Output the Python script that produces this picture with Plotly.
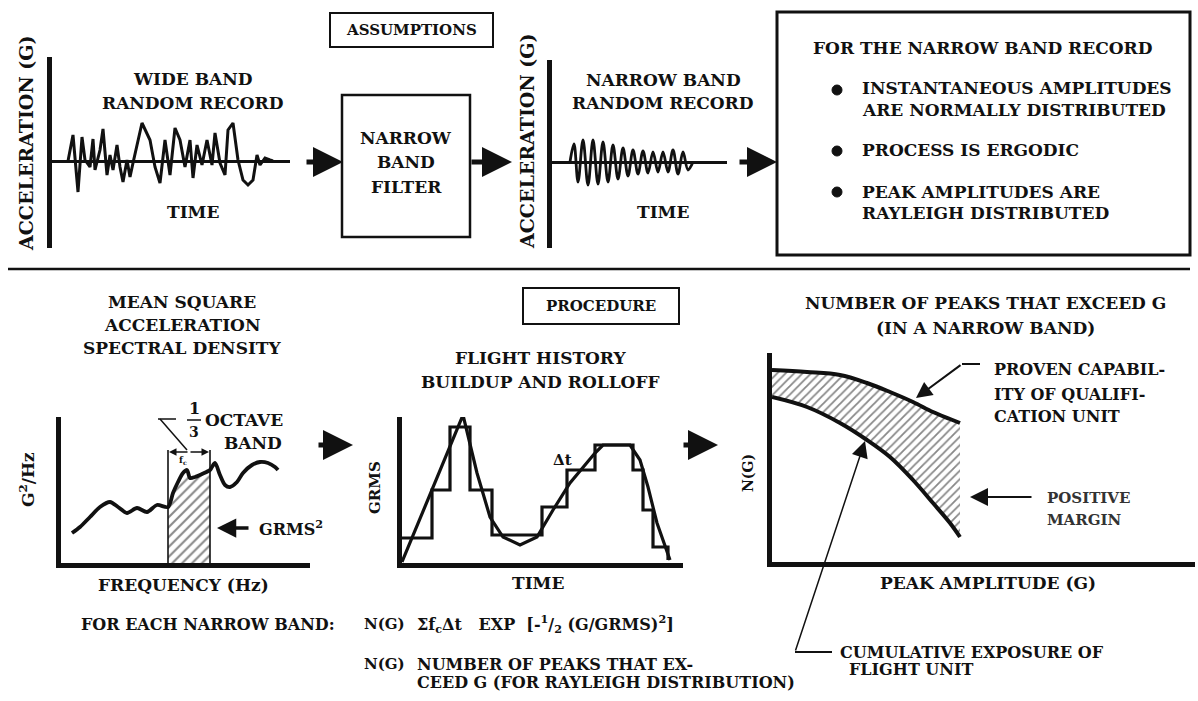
import plotly.graph_objects as go

W, H = 1198, 701
INK = "#111111"
FONT = "DejaVu Serif"

# ---------------- data ----------------
# Wide band random record (time, acceleration; arbitrary units)
WB_T = [16, 21, 26, 30, 33, 38, 41, 43, 48, 51, 55, 58, 61, 65, 68, 71, 75, 78, 81, 90,
        98, 103, 108, 113, 118, 123, 128, 133, 138, 141, 145, 150, 155, 160, 163, 168, 173, 176, 181, 186,
        191, 196, 201, 205, 208, 213, 218, 221]
WB_A = [0, 26, -31, 24, 1, -6, 22, -9, 11, 32, -14, 6, -9, 16, -6, -21, 1, -16, -2, 38,
        21, -6, -22, 21, -14, 33, 21, -6, 21, -17, 16, -4, 21, -4, 28, -2, -14, 31, 38, 1,
        -19, -24, -19, 6, -4, 3, 1, 0]

# Narrow band random record (time, acceleration)
NB_T = [18, 22, 26, 31, 36, 41, 46, 51, 56, 61, 66, 71, 76, 81, 86, 91, 96, 101, 106, 111,
        116, 121, 126, 131, 136, 141]
NB_A = [0, 18, -20, 22, -23, 22, -22, 20, -20, 17, -17, 14, -14, 12, -12, 11, -11, 10, -10, 10,
        -10, 12, -12, 10, -8, 0]

# Mean square acceleration spectral density (frequency, G^2/Hz)
PSD_F = [11, 19, 29, 39, 49, 57, 66, 76, 86, 96, 107, 112, 117, 122, 126, 129, 134, 141, 149, 151,
         154, 159, 164, 169, 176, 182, 191, 199, 207, 214, 217]
PSD_S = [30, 36, 46, 56, 61, 56, 50, 55, 51, 58, 56, 70, 81, 90, 93, 85, 86, 89, 93, 96,
         100, 88, 78, 76, 81, 90, 98, 101, 100, 96, 93]
BAND_LO, BAND_HI = 107, 149          # 1/3 octave band edges

# Flight history buildup and rolloff (time, GRMS)
FH_T = [0, 61, 75, 88, 101, 118, 135, 151, 168, 181, 193, 201, 228, 238, 246, 255, 268]
FH_G = [1, 148, 90, 46, 26, 18, 26, 53, 80, 96, 110, 118, 118, 103, 76, 40, 3]
# step approximation (Δt blocks)
ST_T = [0, 30, 48, 68, 90, 140, 165, 193, 231, 241, 251, 266]
ST_G = [25, 73, 136, 73, 28, 56, 93, 118, 93, 53, 16, 3]

# Number of peaks exceeding G (peak amplitude, N(G))
NG_G = [0, 35, 68, 95, 118, 141, 161, 178, 188]
NG_QUAL = [192, 190, 187, 179, 170, 160, 150, 143, 139]     # proven capability of qualification unit
NG_FLIGHT = [165, 155, 139, 122, 105, 82, 59, 39, 25]       # cumulative exposure of flight unit


def px(x):
    return x / W


def py(y):
    return 1 - y / H


fig = go.Figure()
layout_axes = {}


def panel(n, x0, x1, y0, y1, xr, yr, xline=False, yline=False, zero=False, lw=4.5):
    sx = "" if n == 1 else str(n)
    layout_axes["xaxis" + sx] = dict(domain=[px(x0), px(x1)], range=xr, anchor="y" + sx,
                                     showgrid=False, zeroline=False, showticklabels=False,
                                     ticks="", showline=xline, linewidth=lw, linecolor=INK,
                                     fixedrange=True)
    layout_axes["yaxis" + sx] = dict(domain=[py(y1), py(y0)], range=yr, anchor="x" + sx,
                                     showgrid=False, zeroline=zero, zerolinewidth=3,
                                     zerolinecolor=INK, showticklabels=False, ticks="",
                                     showline=yline, linewidth=lw, linecolor=INK,
                                     fixedrange=True)
    return ("x" + sx, "y" + sx)


p1 = panel(1, 52, 290, 57, 248, [0, 238], [-87, 104], yline=True, zero=True, lw=5)
p2 = panel(2, 552, 727, 60, 248, [0, 175], [-86, 102], yline=True, zero=True, lw=5)
p3 = panel(3, 61, 310, 417, 563, [0, 249], [0, 146], xline=True, yline=True)
p4 = panel(4, 402, 683, 417, 563, [0, 281], [0, 146], xline=True, yline=True)
p5 = panel(5, 772, 1195, 353, 562, [0, 423], [0, 209], xline=True, yline=True)

fig.add_trace(go.Scatter(x=WB_T, y=WB_A, xaxis=p1[0], yaxis=p1[1], mode="lines",
                         line=dict(color=INK, width=3)))
fig.add_trace(go.Scatter(x=NB_T, y=NB_A, xaxis=p2[0], yaxis=p2[1], mode="lines",
                         line=dict(color=INK, width=2.8, shape="spline", smoothing=1.0)))

# hatched 1/3 octave band under the spectral density
band_f = [BAND_LO] + [f for f in PSD_F if BAND_LO <= f <= BAND_HI] + [BAND_HI]
band_s = [0] + [s for f, s in zip(PSD_F, PSD_S) if BAND_LO <= f <= BAND_HI] + [0]
fig.add_trace(go.Scatter(x=band_f, y=band_s, xaxis=p3[0], yaxis=p3[1], mode="lines",
                         fill="toself", fillcolor="white", line=dict(width=0, color=INK),
                         fillpattern=dict(shape="/", fgcolor=INK, bgcolor="white",
                                          size=7, solidity=0.3)))
fig.add_trace(go.Scatter(x=PSD_F, y=PSD_S, xaxis=p3[0], yaxis=p3[1], mode="lines",
                         line=dict(color=INK, width=3.8, shape="spline", smoothing=0.8)))

fig.add_trace(go.Scatter(x=FH_T, y=FH_G, xaxis=p4[0], yaxis=p4[1], mode="lines",
                         line=dict(color=INK, width=3.2)))
fig.add_trace(go.Scatter(x=ST_T, y=ST_G, xaxis=p4[0], yaxis=p4[1], mode="lines",
                         line=dict(color=INK, width=3.2, shape="hv")))

fig.add_trace(go.Scatter(x=NG_G, y=NG_FLIGHT, xaxis=p5[0], yaxis=p5[1], mode="lines",
                         line=dict(color=INK, width=4, shape="spline")))
fig.add_trace(go.Scatter(x=NG_G, y=NG_QUAL, xaxis=p5[0], yaxis=p5[1], mode="lines",
                         fill="tonexty", fillcolor="white",
                         fillpattern=dict(shape="/", fgcolor=INK, bgcolor="white",
                                          size=6, solidity=0.3),
                         line=dict(color=INK, width=4, shape="spline")))

shapes = []


def seg(x0, y0, x1, y1, w=2, ref=None):
    if ref is None:
        shapes.append(dict(type="line", xref="paper", yref="paper", x0=px(x0), y0=py(y0),
                           x1=px(x1), y1=py(y1), line=dict(color=INK, width=w)))
    else:
        shapes.append(dict(type="line", xref=ref[0], yref=ref[1], x0=x0, y0=y0,
                           x1=x1, y1=y1, line=dict(color=INK, width=w)))


def box(x0, y0, x1, y1, w=2):
    shapes.append(dict(type="rect", xref="paper", yref="paper", x0=px(x0), y0=py(y1),
                       x1=px(x1), y1=py(y0), line=dict(color=INK, width=w),
                       fillcolor="rgba(0,0,0,0)"))


def dot(x, y, r=5):
    shapes.append(dict(type="circle", xref="paper", yref="paper", x0=px(x - r), y0=py(y + r),
                       x1=px(x + r), y1=py(y - r), line=dict(color=INK, width=1),
                       fillcolor=INK))


# divider and boxes
seg(8, 269, 1190, 269, w=2.5)
box(330, 13, 493, 47, w=2)
box(342, 95, 470, 237, w=2.5)
box(777, 12, 1190, 255, w=3)
box(523, 288, 679, 324, w=2)
for yy in (90, 151, 192):
    dot(837, yy)

# band edges of the 1/3 octave band (panel 3 data coordinates)
seg(BAND_LO, 0, BAND_LO, 113, w=1.6, ref=p3)
seg(BAND_HI, 0, BAND_HI, 113, w=1.6, ref=p3)
# 1/3 leader and fraction bar
seg(158, 419, 176, 419, w=1.5)
seg(160, 419, 187, 450, w=1.5)
seg(187, 420, 201, 420, w=1.5)
# leaders on N(G) chart
seg(980, 364, 962, 364, w=2)
seg(795, 652, 832, 652, w=2)

annotations = []


def txt(s, x, y, size=17, xanchor="center", angle=0, color=INK):
    annotations.append(dict(text=s, x=px(x), y=py(y), xref="paper", yref="paper",
                            showarrow=False, xanchor=xanchor, yanchor="middle",
                            textangle=angle,
                            font=dict(family=FONT, size=size, color=color, weight="bold")))


def arrow(xt, yt, xh, yh, w=5, size=1.2, head=2):
    annotations.append(dict(text="", x=px(xh), y=py(yh), xref="paper", yref="paper",
                            ax=xt - xh, ay=yt - yh, axref="pixel", ayref="pixel",
                            showarrow=True, arrowhead=head, arrowsize=size, arrowwidth=w,
                            arrowcolor=INK, standoff=0, startstandoff=0))


# ---- top row ----
txt("ASSUMPTIONS", 411, 30, size=15)
txt("ACCELERATION (G)", 26, 143, size=19, angle=-90)
txt("WIDE BAND", 193, 79)
txt("RANDOM RECORD", 193, 103)
txt("TIME", 193, 212)
txt("NARROW", 406, 138)
txt("BAND", 406, 162)
txt("FILTER", 406, 187)
txt("ACCELERATION (G)", 527, 141, size=19, angle=-90)
txt("NARROW BAND", 663, 80)
txt("RANDOM RECORD", 663, 103)
txt("TIME", 663, 212)
txt("FOR THE NARROW BAND RECORD", 983, 48)
txt("INSTANTANEOUS AMPLITUDES", 860, 88, xanchor="left")
txt("ARE NORMALLY DISTRIBUTED", 860, 110, xanchor="left")
txt("PROCESS IS ERGODIC", 860, 150, xanchor="left")
txt("PEAK AMPLITUDES ARE", 860, 192, xanchor="left")
txt("RAYLEIGH DISTRIBUTED", 860, 213, xanchor="left")
arrow(305, 162, 343, 162)
arrow(470, 162, 512, 162)
arrow(738, 162, 777, 162)

# ---- bottom row ----
txt("PROCEDURE", 601, 306, size=15)
txt("MEAN SQUARE", 182, 302)
txt("ACCELERATION", 182, 325)
txt("SPECTRAL DENSITY", 182, 348)
txt("1", 194, 408, size=16)
txt("3", 194, 432, size=14)
txt("OCTAVE", 244, 420)
txt("BAND", 253, 443)
txt("f<sub>c</sub>", 183, 460, size=9)
txt("G<sup>2</sup>/Hz", 27, 480, size=17, angle=-90)
txt("GRMS<sup>2</sup>", 257, 528, xanchor="left", size=16)
txt("FREQUENCY (Hz)", 183, 585)
arrow(189, 452, 169, 452, w=1.5, size=1)
arrow(189, 452, 209, 452, w=1.5, size=1)
arrow(250, 528, 217, 528, w=3.5, size=1.1)

txt("FLIGHT HISTORY", 540, 358)
txt("BUILDUP AND ROLLOFF", 540, 382)
txt("GRMS", 375, 488, size=15, angle=-90)
txt("Δt", 562, 460, size=15)
txt("TIME", 538, 583)
arrow(317, 445, 353, 445)
arrow(682, 445, 718, 445)

txt("NUMBER OF PEAKS THAT EXCEED G", 985, 303)
txt("(IN A NARROW BAND)", 985, 328)
txt("N(G)", 748, 473, size=14, angle=-90)
txt("PROVEN CAPABIL-", 992, 370, xanchor="left", size=16)
txt("ITY OF QUALIFI-", 992, 394, xanchor="left", size=16)
txt("CATION UNIT", 992, 416, xanchor="left", size=16)
txt("POSITIVE", 1045, 498, xanchor="left", size=15, color="#333333")
txt("MARGIN", 1045, 520, xanchor="left", size=15, color="#333333")
txt("PEAK AMPLITUDE (G)", 988, 583)
arrow(962, 364, 916, 398, w=2, size=1.6)
arrow(1033, 497, 970, 497, w=2, size=1.8)
arrow(795, 652, 865, 441, w=1.5, size=2.2)
txt("CUMULATIVE EXPOSURE OF", 838, 652, xanchor="left", size=16)
txt("FLIGHT UNIT", 847, 669, xanchor="left", size=16)

txt("FOR EACH NARROW BAND:", 337, 624, xanchor="right", size=16)
txt("N(G)", 384, 624, size=15)
txt("Σf<sub>c</sub>Δt   EXP  [-<sup>1</sup>/<sub>2</sub> (G/GRMS)<sup>2</sup>]", 415, 624,
    xanchor="left", size=16)
txt("N(G)", 384, 664, size=15)
txt("NUMBER OF PEAKS THAT EX-", 415, 664, xanchor="left", size=16)
txt("CEED G (FOR RAYLEIGH DISTRIBUTION)", 415, 682, xanchor="left", size=16)

fig.update_layout(width=W, height=H, margin=dict(l=0, r=0, t=0, b=0),
                  paper_bgcolor="white", plot_bgcolor="rgba(0,0,0,0)",
                  showlegend=False, shapes=shapes, annotations=annotations, **layout_axes)

fig.write_html("out.html", config={"displayModeBar": False},
               post_script="document.body.style.margin='0';document.body.style.overflow='hidden';")
